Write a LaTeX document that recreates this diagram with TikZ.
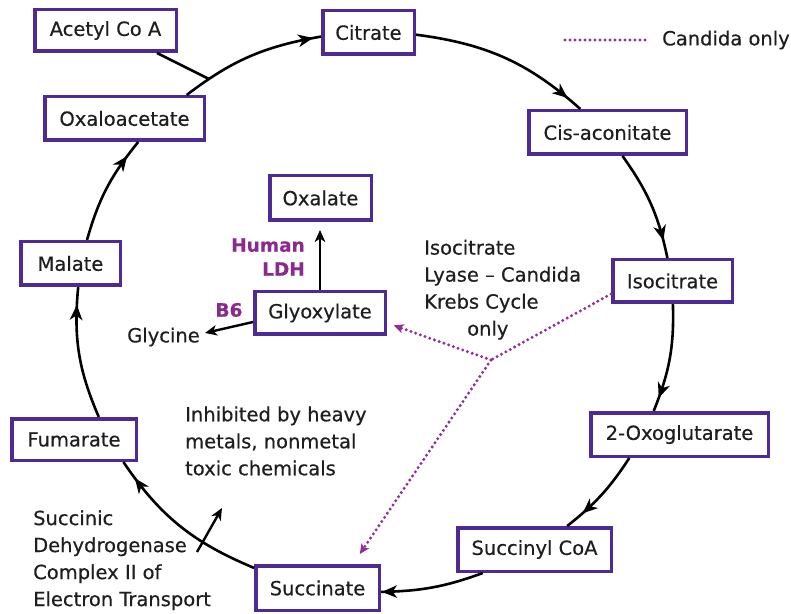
\documentclass[tikz,border=0pt]{standalone}
\usepackage{fontspec}
\setmainfont{DejaVu Sans}[FakeBold=0.4]
\usetikzlibrary{arrows.meta,decorations.markings}
\definecolor{boxpurple}{HTML}{4E2A96}
\definecolor{labpurple}{HTML}{8A2A8E}
\definecolor{dotpurple}{HTML}{942C9C}
\definecolor{txt}{HTML}{1E1E1E}
\begin{document}
\begin{tikzpicture}[x=1pt,y=1pt,
  mbox/.style={draw=boxpurple, line width=3.5pt, fill=white, inner sep=0pt,
    font=\fontsize{19.5}{23}\selectfont, text=txt},
  lab/.style={inner sep=0pt, font=\fontsize{19.5}{27}\selectfont, text=txt},
  plab/.style={inner sep=0pt, font=\fontsize{18.5}{24}\selectfont\bfseries, text=labpurple},
  cyc/.style={line width=2.6pt, draw=black},
  amark/.style={postaction={decorate}, decoration={markings,
    mark=at position -#1 with {\arrow{Stealth[length=15pt,width=12.5pt,inset=4.5pt]}}}},
  smallarrow/.style={line width=2.4pt, -{Stealth[length=12pt,width=10.5pt,inset=3.5pt]}},
  cdot/.style={draw=dotpurple, line width=3.3pt, dash pattern=on 0pt off 5pt, line cap=round},
  cdotarrow/.style={cdot, -{Stealth[length=10pt,width=9pt,inset=2.5pt]}}
]
\useasboundingbox[fill=white] (0,0) rectangle (791,613);

% boxes
\node[mbox, minimum width=141.5, minimum height=41.5] (acetyl) at (105.5,582.5) {Acetyl Co A};
\node[mbox, minimum width=91.5, minimum height=43.5] (citrate) at (368.5,580.5) {Citrate};
\node[mbox, minimum width=159.5, minimum height=43.5] (oxalo) at (124.5,494.5) {Oxaloacetate};
\node[mbox, minimum width=157.5, minimum height=43.5] (cis) at (607.5,480.5) {Cis-aconitate};
\node[mbox, minimum width=99.5, minimum height=43.5] (malate) at (70.5,349.5) {Malate};
\node[mbox, minimum width=101.5, minimum height=44.5] (oxalate) at (320.5,415) {Oxalate};
\node[mbox, minimum width=130.5, minimum height=42.5] (glyox) at (320,300) {Glyoxylate};
\node[mbox, minimum width=119.5, minimum height=42.5] (isocit) at (672.5,332) {Isocitrate};
\node[mbox, minimum width=177.5, minimum height=43.5] (oxoglut) at (679.5,178.5) {2-Oxoglutarate};
\node[mbox, minimum width=153.5, minimum height=43.5] (succoa) at (534.5,63.5) {Succinyl CoA};
\node[mbox, minimum width=123.5, minimum height=44.5] (succinate) at (317.5,25) {Succinate};
\node[mbox, minimum width=124.5, minimum height=41.5] (fumarate) at (74,173.5) {Fumarate};

% text labels
\node[lab, anchor=west, align=left] (lyase) at (424,323.3)
  {Isocitrate\\Lyase – Candida\\Krebs Cycle\\\hspace{43pt}only};
\node[lab, anchor=west, align=left] (inhib) at (185,172)
  {Inhibited by heavy\\metals, nonmetal\\toxic chemicals};
\node[lab, anchor=west, align=left] (sdh) at (33,52.8)
  {Succinic\\Dehydrogenase\\Complex II of\\Electron Transport};
\node[plab, anchor=east, align=right] (ldh) at (305,356) {Human\\LDH};
\node[plab] (b6) at (229,303) {B6};
\node[lab] (glycine) at (163.5,276) {Glycine};
\node[lab, anchor=west] (candida) at (662,573) {Candida only};

% Krebs cycle arcs
\draw[cyc, amark=8pt] ([xshift=62.2pt]oxalo.north) to[out=37.46, in=189.82]
  coordinate[pos=0.17] (jn) ([yshift=-4.1pt]citrate.west);
\draw[cyc] ([xshift=51.5pt]acetyl.south) -- (jn);
\draw[cyc, amark=17pt] ([yshift=-2.2pt]citrate.east) to[out=-7.43, in=138.24]
  ([xshift=-27.2pt]cis.north);
\draw[cyc, amark=18pt] ([xshift=15pt]cis.south) to[out=-54.47, in=101.82]
  ([xshift=-5.1pt]isocit.north);
\draw[cyc, amark=14pt] ([xshift=0.4pt]isocit.south) to[out=-88.26, in=68.1]
  ([xshift=-25.8pt]oxoglut.north);
\draw[cyc, amark=20pt] ([xshift=-50.2pt]oxoglut.south) to[out=-123.04, in=38.4]
  ([xshift=32.7pt]succoa.north);
\draw[cyc, amark=1pt] ([xshift=-51.7pt]succoa.south) to[out=-160, in=1.1]
  ([yshift=-3.9pt]succinate.east);
\draw[cyc, amark=20pt] ([yshift=20.1pt]succinate.west) to[out=157.35, in=-55.96]
  ([xshift=49.4pt]fumarate.south);
\draw[cyc, amark=18pt] ([xshift=24.8pt]fumarate.north) to[out=113.3, in=-95.45]
  ([xshift=7.7pt]malate.south);
\draw[cyc, amark=18pt] ([xshift=16.5pt]malate.north) to[out=74.19, in=230.89]
  ([xshift=13.7pt]oxalo.south);

% side reactions
\draw[smallarrow, shorten >=8pt] (glyox.north) -- (glyox.north |- oxalate.south);
\draw[smallarrow] ([yshift=-9pt]glyox.west) -- ([xshift=5pt,yshift=4pt]glycine.east);

% inhibition arrow
\coordinate (inhS) at (197,61);
\coordinate (inhE) at (222,105);
\draw[smallarrow] (inhS) -- (inhE);

% Candida-only dotted paths
\coordinate (J) at (491,253);
\draw[cdot] ([yshift=-13pt]isocit.west) -- (J);
\draw[cdotarrow, shorten >=7pt] (J) -- ([yshift=-10pt]glyox.east);
\draw[cdotarrow, shorten >=12pt] (J) -- ([xshift=35.5pt]succinate.north);

% legend
\draw[cdot] ([xshift=-97pt]candida.west) -- ([xshift=-15pt]candida.west);
\end{tikzpicture}
\end{document}
